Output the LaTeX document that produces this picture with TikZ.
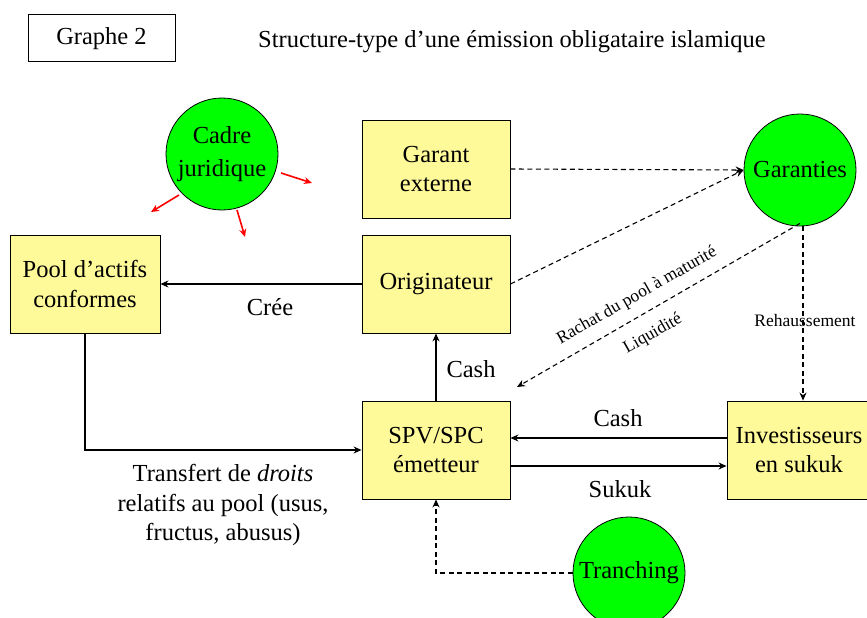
\documentclass[tikz,border=0pt]{standalone}
\usepackage{fontspec}
\setmainfont{Liberation Serif}
\usetikzlibrary{arrows.meta}
\begin{document}
\begin{tikzpicture}[x=1pt,y=-1pt,
  font=\fontsize{24.5}{29.5}\selectfont,
  box/.style={draw, line width=0.9pt, fill=yellow!40, minimum width=148pt, minimum height=98pt, align=center, inner sep=0pt},
  disc/.style={circle, draw, line width=0.8pt, fill=green, minimum size=112pt, inner sep=0pt, align=center},
  flow/.style={line width=1.1pt, -{Stealth[length=8pt,width=7pt]}},
  dflow/.style={line width=1.1pt, dash pattern=on 5pt off 3.5pt, -{Stealth[length=8pt,width=7pt]}},
  redarrow/.style={red, line width=1.6pt, -{Stealth[length=8pt,width=7pt]}},
  lbl/.style={inner sep=0pt},
  small/.style={font=\fontsize{17.5}{21}\selectfont, inner sep=0pt}]
\useasboundingbox (0,0) rectangle (867,618);
\fill[white] (0,0) rectangle (867,618);

% heading
\node[draw, line width=1pt, minimum width=147pt, minimum height=47pt, inner sep=0pt] (graph) at (101.5,38.5) {Graphe 2};
\node[lbl, anchor=west] (title) at (258,42) {Structure-type d’une émission obligataire islamique};

% boxes
\node[box] (garant) at (436,169) {Garant\\externe};
\node[box] (orig) at (436,284) {Originateur};
\node[box, minimum width=150pt] (pool) at (85,284) {Pool d’actifs\\conformes};
\node[box] (spv) at (436,450) {SPV/SPC\\émetteur};
\node[box, minimum width=144pt] (inv) at (799,450) {Investisseurs\\en sukuk};

% discs
\node[disc, font=\fontsize{24.5}{33}\selectfont] (cadre) at (222,154) {Cadre\\juridique};
\node[disc] (gar) at (800,170) {Garanties};
\node[disc] (tranch) at (629,573) {Tranching};

% influence of the legal framework
\coordinate (c1s) at (179,195); \coordinate (c1e) at (151,212);
\coordinate (c2s) at (237,210); \coordinate (c2e) at (245,237);
\coordinate (c3s) at (281,173); \coordinate (c3e) at (312,183);
\draw[redarrow] (c1s) -- (c1e);
\draw[redarrow] (c2s) -- (c2e);
\draw[redarrow] (c3s) -- (c3e);

% flows
\draw[flow] (orig.west) -- (pool.east);
\node[lbl] (cree) at (270,307) {Crée};
\draw[flow] (pool.south) |- (spv.west);
\draw[flow] (spv.north) -- (orig.south);
\node[lbl] (cash1) at (471,369) {Cash};
\draw[flow] (inv.west |- 0,438) -- (spv.east |- 0,438);
\node[lbl] (cash2) at (618,418) {Cash};
\draw[flow] (spv.east |- 0,466) -- (inv.west |- 0,466);
\node[lbl] (sukuk) at (620,489) {Sukuk};
\draw[dflow] (tranch.west) -| (spv.south);

% guarantees
\draw[dflow] (garant.east) -- (gar.west);
\draw[dflow] (orig.east) -- (gar.west);
\coordinate (liq) at (517,387);
\draw[dflow] (gar.south) ++(0,-3) -- (liq);
\draw[dflow] (gar.south -| inv.north) ++(4,0) -- (inv.north -| 803,0);
\node[small] (reh) at (805,321) {Rehaussement};
\node[small, rotate=29.6] (rachat) at (637,296) {Rachat du pool à maturité};
\node[small, rotate=29.6] (liquid) at (653,334) {Liquidité};

% transfer of rights
\node[lbl, align=center] (transf) at (223,505) {Transfert de \textit{droits}\\relatifs au pool (usus,\\fructus, abusus)};
\end{tikzpicture}
\end{document}
